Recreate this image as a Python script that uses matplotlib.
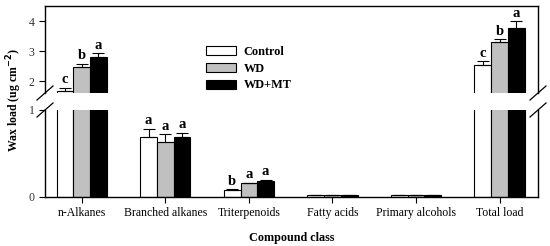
import matplotlib
matplotlib.use("Agg")
import matplotlib.pyplot as plt
import numpy as np

categories = ["n-Alkanes", "Branched alkanes", "Triterpenoids", "Fatty acids", "Primary alcohols", "Total load"]
series = ["Control", "WD", "WD+MT"]
control = [1.67, 0.69, 0.077, 0.022, 0.015, 2.53]
wd = [2.47, 0.634, 0.155, 0.018, 0.015, 3.30]
wdmt = [2.80, 0.69, 0.185, 0.020, 0.016, 3.78]
control_err = [0.11, 0.09, 0.008, 0.0, 0.0, 0.13]
wd_err = [0.11, 0.085, 0.008, 0.0, 0.0, 0.09]
wdmt_err = [0.13, 0.05, 0.008, 0.0, 0.0, 0.22]
control_lab = ["c", "a", "b", "", "", "c"]
wd_lab = ["b", "a", "a", "", "", "b"]
wdmt_lab = ["a", "a", "a", "", "", "a"]

colors = ["white", "#c0c0c0", "black"]
plt.rcParams['font.family'] = ['Liberation Serif', 'DejaVu Serif']

fig = plt.figure(figsize=(5.5, 2.46), dpi=100)
L, R = 45/550, 538/550
ax_up = fig.add_axes([L, 1-93/246, R-L, (93-6)/246])
ax_lo = fig.add_axes([L, 1-196.7/246, R-L, (196.7-110)/246])

x = np.arange(len(categories))
w = 0.2
vals = [control, wd, wdmt]
errs = [control_err, wd_err, wdmt_err]
labs = [control_lab, wd_lab, wdmt_lab]

for ax in (ax_up, ax_lo):
    for i, (v, e, c, s) in enumerate(zip(vals, errs, colors, series)):
        pos = x + (i-1)*w
        ax.bar(pos, v, width=w, color=c, edgecolor="black", linewidth=0.8, label=s, zorder=2)
        ax.errorbar(pos, v, yerr=[np.zeros(len(v)), e], fmt="none", ecolor="black",
                    elinewidth=0.8, capsize=4, capthick=0.8, zorder=3)
    ax.set_xlim(-0.44, 5.46)
    ax.tick_params(axis="both", labelsize=8.5, direction="out", length=4, width=0.8)
    ax.tick_params(axis="y", labelcolor="#333333")
    for sp in ax.spines.values():
        sp.set_linewidth(1.0)

ax_up.set_ylim(1.6, 4.5)
ax_up.set_yticks([2, 3, 4])
ax_lo.set_ylim(0, 1.0)
ax_lo.set_yticks([0, 1])
ax_up.spines["bottom"].set_visible(False)
ax_lo.spines["top"].set_visible(False)
ax_up.tick_params(axis="x", bottom=False, labelbottom=False)
ax_lo.set_xticks(x)
ax_lo.set_xticklabels(categories)

# significance letters
for i, (v, e, lab) in enumerate(zip(vals, errs, labs)):
    pos = x + (i-1)*w
    for j in range(len(categories)):
        if not lab[j]:
            continue
        top = v[j] + e[j]
        if v[j] > 1.5:
            ax_up.text(pos[j], top + 0.04, lab[j], ha="center", va="bottom",
                       fontsize=10.5, fontweight="bold")
        else:
            ax_lo.text(pos[j], top + 0.02, lab[j], ha="center", va="bottom",
                       fontsize=10.5, fontweight="bold")

# break marks
for (ya) in (93, 110):
    for xa in (45, 538):
        fx0, fy0 = (xa-8)/550, 1-(ya+7)/246
        fx1, fy1 = (xa+8)/550, 1-(ya-7)/246
        fig.add_artist(plt.Line2D([fx0, fx1], [fy0, fy1], color="black", lw=0.9))

leg = ax_up.legend(loc="upper left", bbox_to_anchor=(0.316, 0.60), frameon=False,
                   prop={"weight": "bold", "size": 8.8}, handlelength=2.5, handleheight=0.8,
                   labelspacing=0.4, handletextpad=0.6, borderaxespad=0)

fig.text(0.026, 1-100/246, "Wax load (ug cm$^{\\mathbf{-2}}$)", rotation=90, ha="center", va="center",
         fontsize=8.5, fontweight="bold")
fig.text((L+R)/2, 1-238/246, "Compound class", ha="center", va="center",
         fontsize=8.7, fontweight="bold")

fig.savefig("out.png", dpi=100)
